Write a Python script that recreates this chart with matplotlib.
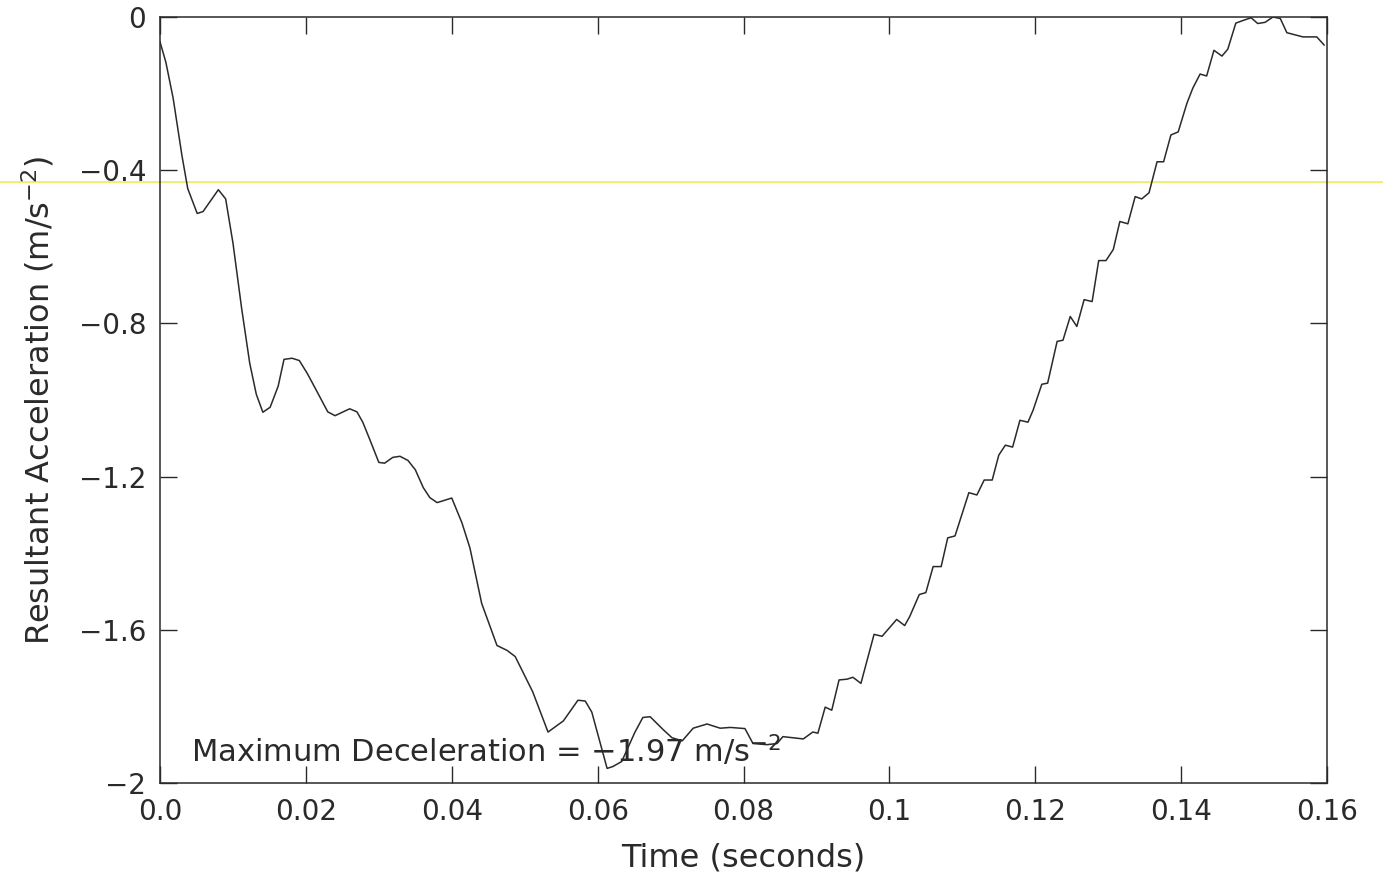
import matplotlib
matplotlib.use("Agg")
import matplotlib.pyplot as plt
from matplotlib.lines import Line2D

# values
time_s = [0.0, 0.0008, 0.0018, 0.0030, 0.0038, 0.0051, 0.0059, 0.0080, 0.0090, 0.0100,
          0.0112, 0.0123, 0.0132, 0.0141, 0.0151, 0.0162, 0.0170, 0.0181, 0.0191, 0.0202,
          0.0213, 0.0230, 0.0240, 0.0260, 0.0270, 0.0278, 0.0288, 0.0300, 0.0308, 0.0319,
          0.0329, 0.0340, 0.0350, 0.0361, 0.0370, 0.0380, 0.0400, 0.0414, 0.0425, 0.0441,
          0.0462, 0.0476, 0.0487, 0.0511, 0.0532, 0.0553, 0.0573, 0.0583, 0.0592, 0.0613,
          0.0621, 0.0633, 0.0651, 0.0662, 0.0672, 0.0690, 0.0702, 0.0716, 0.0731, 0.0750,
          0.0768, 0.0782, 0.0802, 0.0813, 0.0832, 0.0846, 0.0854, 0.0868, 0.0882, 0.0895,
          0.0902, 0.0912, 0.0921, 0.0931, 0.0942, 0.0950, 0.0961, 0.0979, 0.0990, 0.1010,
          0.1021, 0.1028, 0.1041, 0.1050, 0.1060, 0.1071, 0.1080, 0.1090, 0.1109, 0.1120,
          0.1130, 0.1141, 0.1150, 0.1159, 0.1169, 0.1179, 0.1190, 0.1197, 0.1209, 0.1217,
          0.1230, 0.1238, 0.1248, 0.1257, 0.1267, 0.1278, 0.1287, 0.1297, 0.1307, 0.1316,
          0.1327, 0.1337, 0.1346, 0.1356, 0.1367, 0.1376, 0.1386, 0.1396, 0.1408, 0.1416,
          0.1426, 0.1435, 0.1445, 0.1456, 0.1464, 0.1475, 0.1485, 0.1496, 0.1505, 0.1515,
          0.1526, 0.1536, 0.1545, 0.1567, 0.1586, 0.1596]
accel = [-0.065, -0.118, -0.212, -0.361, -0.448, -0.513, -0.508, -0.451, -0.475, -0.590,
         -0.762, -0.904, -0.985, -1.032, -1.019, -0.964, -0.894, -0.891, -0.897, -0.931,
         -0.970, -1.031, -1.041, -1.023, -1.031, -1.058, -1.105, -1.163, -1.165, -1.150,
         -1.147, -1.158, -1.182, -1.229, -1.255, -1.268, -1.256, -1.321, -1.387, -1.531,
         -1.641, -1.654, -1.670, -1.762, -1.867, -1.838, -1.784, -1.786, -1.815, -1.962,
         -1.957, -1.944, -1.868, -1.829, -1.827, -1.861, -1.882, -1.890, -1.857, -1.846,
         -1.857, -1.855, -1.858, -1.897, -1.900, -1.897, -1.879, -1.882, -1.885, -1.867,
         -1.870, -1.802, -1.810, -1.731, -1.729, -1.724, -1.740, -1.612, -1.617, -1.573,
         -1.589, -1.565, -1.508, -1.503, -1.435, -1.435, -1.360, -1.355, -1.242, -1.248,
         -1.209, -1.209, -1.144, -1.118, -1.123, -1.053, -1.058, -1.027, -0.959, -0.956,
         -0.847, -0.844, -0.782, -0.808, -0.738, -0.743, -0.636, -0.636, -0.607, -0.534,
         -0.540, -0.469, -0.475, -0.459, -0.378, -0.378, -0.308, -0.300, -0.225, -0.186,
         -0.149, -0.154, -0.087, -0.102, -0.084, -0.016, -0.009, -0.002, -0.017, -0.014,
         0.0, -0.004, -0.041, -0.052, -0.052, -0.073]

xticks = [0.0, 0.02, 0.04, 0.06, 0.08, 0.1, 0.12, 0.14, 0.16]
xtick_labels = ["0.0", "0.02", "0.04", "0.06", "0.08", "0.1", "0.12", "0.14", "0.16"]
yticks = [0, -0.4, -0.8, -1.2, -1.6, -2]
ytick_labels = ["0", "\u22120.4", "\u22120.8", "\u22121.2", "\u22121.6", "\u22122"]

plt.rcParams['font.family'] = ['DejaVu Sans']
plt.rcParams['mathtext.default'] = 'regular'
ink = '#2a2a2a'

fig = plt.figure(figsize=(13.83, 8.76), dpi=100)
ax = fig.add_axes([0.1157, 0.1062, 0.8438, 0.8744])
ax.set_facecolor('none')

# scanner streak across the page
fig.add_artist(Line2D([0, 1], [0.7922, 0.7922], transform=fig.transFigure,
                      color='#f2ee6e', lw=1.4, zorder=0))

ax.plot(time_s, accel, color=ink, lw=1.1)

ax.set_xlim(0, 0.16)
ax.set_ylim(-2, 0)
ax.set_xticks(xticks)
ax.set_xticklabels(xtick_labels)
ax.set_yticks(yticks)
ax.set_yticklabels(ytick_labels)
ax.tick_params(direction='in', length=12, width=1, colors=ink, labelsize=20,
               top=True, right=True)
ax.tick_params(axis='x', pad=11)
ax.tick_params(axis='y', pad=10)
for s in ax.spines.values():
    s.set_color(ink)
    s.set_linewidth(1.1)

ax.set_xlabel("Time (seconds)", fontsize=23, color=ink, labelpad=12)
ax.set_ylabel("Resultant Acceleration (m/s$^{-2}$)", fontsize=23, color=ink, labelpad=16)

ax.text(0.0042, -1.915, "Maximum Deceleration = \u22121.97 m/s$^{-2}$",
        fontsize=22, color=ink, va='center', ha='left')

fig.savefig("out.png", dpi=100)
